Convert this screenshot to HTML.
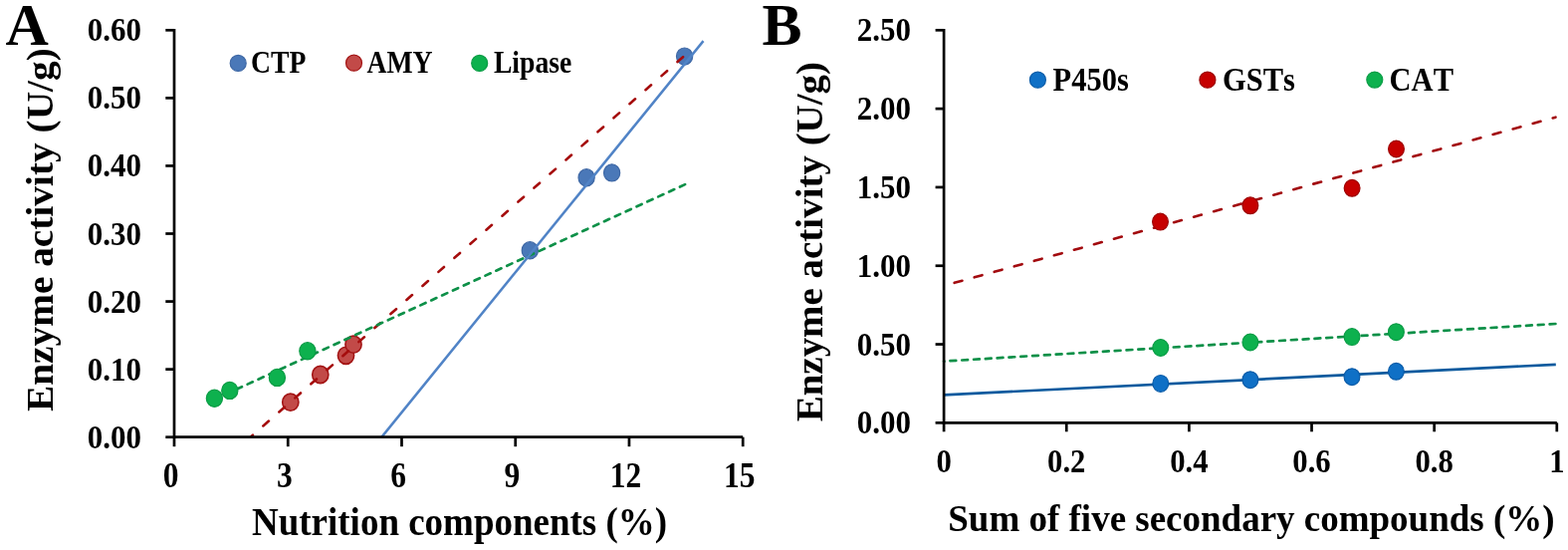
<!DOCTYPE html>
<html><head><meta charset="utf-8"><title>Enzyme activity charts</title>
<style>
html,body{margin:0;padding:0;background:#fff;}
body{width:1575px;height:552px;overflow:hidden;}
svg{display:block;font-kerning:none;}
text{font-kerning:none;font-variant-ligatures:common-ligatures;}
</style></head>
<body>
<svg width="1575" height="552" viewBox="0 0 1575 552">
<rect width="1575" height="552" fill="#fff"/>
<g font-family='"Liberation Serif", "Times New Roman", serif' font-weight="bold" fill="#000">
<text transform="translate(141.90,449.70) scale(1.000,1.100)" font-size="31" text-anchor="end">0.00</text>
<text transform="translate(141.90,381.63) scale(1.000,1.100)" font-size="31" text-anchor="end">0.10</text>
<text transform="translate(141.90,313.57) scale(1.000,1.100)" font-size="31" text-anchor="end">0.20</text>
<text transform="translate(141.90,245.50) scale(1.000,1.100)" font-size="31" text-anchor="end">0.30</text>
<text transform="translate(141.90,177.43) scale(1.000,1.100)" font-size="31" text-anchor="end">0.40</text>
<text transform="translate(141.90,109.37) scale(1.000,1.100)" font-size="31" text-anchor="end">0.50</text>
<text transform="translate(141.90,41.30) scale(1.000,1.100)" font-size="31" text-anchor="end">0.60</text>
<text transform="translate(171.60,488.60) scale(1.000,1.110)" font-size="31.5" text-anchor="middle">0</text>
<text transform="translate(285.84,488.60) scale(1.000,1.110)" font-size="31.5" text-anchor="middle">3</text>
<text transform="translate(400.08,488.60) scale(1.000,1.110)" font-size="31.5" text-anchor="middle">6</text>
<text transform="translate(514.32,488.60) scale(1.000,1.110)" font-size="31.5" text-anchor="middle">9</text>
<text transform="translate(628.56,488.60) scale(1.000,1.110)" font-size="31.5" text-anchor="middle">12</text>
<text transform="translate(742.80,488.60) scale(1.000,1.110)" font-size="31.5" text-anchor="middle">15</text>
<text transform="translate(253.00,537.40) scale(1.000,1.090)" font-size="37">Nutrition components (%)</text>
<text transform="translate(53.30,413.10) rotate(-90) scale(1.030,1.000)" font-size="38.2">Enzyme activity (U/g)</text>
<text transform="translate(5.40,44.60)" font-size="60">A</text>
<text transform="translate(252.10,72.60) scale(1.000,1.110)" font-size="27.7">CTP</text>
<text transform="translate(368.40,72.60) scale(1.000,1.110)" font-size="27.7">AMY</text>
<text transform="translate(495.90,72.80) scale(1.000,1.110)" font-size="27.7">Lipase</text>
</g>
<ellipse cx="239.20" cy="63.40" rx="8.0" ry="8.0" fill="#4a78b8" stroke="#3f68a5" stroke-width="1.2"/>
<ellipse cx="355.50" cy="63.20" rx="8.0" ry="8.0" fill="#c24a48" stroke="#a31414" stroke-width="1.2"/>
<ellipse cx="481.70" cy="63.40" rx="8.0" ry="8.0" fill="#0db14e" stroke="#0a9c45" stroke-width="1.2"/>
<ellipse cx="532.30" cy="251.30" rx="8.1" ry="8.6" fill="#4a78b8" stroke="#3f68a5" stroke-width="1.2"/>
<ellipse cx="589.10" cy="178.30" rx="8.1" ry="8.6" fill="#4a78b8" stroke="#3f68a5" stroke-width="1.2"/>
<ellipse cx="614.60" cy="173.40" rx="8.1" ry="8.6" fill="#4a78b8" stroke="#3f68a5" stroke-width="1.2"/>
<ellipse cx="687.60" cy="56.60" rx="8.1" ry="8.6" fill="#4a78b8" stroke="#3f68a5" stroke-width="1.2"/>
<ellipse cx="291.80" cy="403.70" rx="8.1" ry="8.6" fill="#c24a48" stroke="#a31414" stroke-width="1.6"/>
<ellipse cx="321.80" cy="376.00" rx="8.1" ry="8.6" fill="#c24a48" stroke="#a31414" stroke-width="1.6"/>
<ellipse cx="347.50" cy="356.80" rx="8.1" ry="8.6" fill="#c24a48" stroke="#a31414" stroke-width="1.6"/>
<ellipse cx="355.00" cy="345.70" rx="8.1" ry="8.6" fill="#c24a48" stroke="#a31414" stroke-width="1.6"/>
<path d="M252.5,437.9 L686.7,56.6" stroke="#a50d0d" stroke-width="2.6" stroke-dasharray="7.4 13.9" stroke-dashoffset="5.5" stroke-linecap="round" fill="none"/>
<path d="M215.4,400.8 L688.6,184.9" stroke="#0d9048" stroke-width="2.7" stroke-dasharray="5.65 6.284" stroke-dashoffset="11.184" stroke-linecap="round" fill="none"/>
<ellipse cx="215.40" cy="399.80" rx="8.1" ry="8.6" fill="#0db14e" stroke="#0a9c45" stroke-width="1.2"/>
<ellipse cx="230.80" cy="391.90" rx="8.1" ry="8.6" fill="#0db14e" stroke="#0a9c45" stroke-width="1.2"/>
<ellipse cx="278.40" cy="378.90" rx="8.1" ry="8.6" fill="#0db14e" stroke="#0a9c45" stroke-width="1.2"/>
<ellipse cx="308.90" cy="352.30" rx="8.1" ry="8.6" fill="#0db14e" stroke="#0a9c45" stroke-width="1.2"/>
<path d="M383.4,438.6 L706.5,41.1" stroke="#5083c6" stroke-width="2.5" fill="none"/>
<path d="M957.4,284.2 L1562.5,117.7" stroke="#a20a0e" stroke-width="2.6" stroke-dasharray="8.1 12.68" stroke-dashoffset="19.48" stroke-linecap="round" fill="none"/>
<path d="M948.1,362.6 L1562.8,325.0" stroke="#0d9048" stroke-width="2.7" stroke-dasharray="5.8 6.03" stroke-dashoffset="5.47" stroke-linecap="round" fill="none"/>
<path d="M948.1,396.4 L1562.8,365.8" stroke="#0b5a9e" stroke-width="2.7" fill="none"/>
<ellipse cx="1165.50" cy="222.60" rx="7.9" ry="8.4" fill="#c60000" stroke="#9c0000" stroke-width="1.2"/>
<ellipse cx="1255.90" cy="206.30" rx="7.9" ry="8.4" fill="#c60000" stroke="#9c0000" stroke-width="1.2"/>
<ellipse cx="1358.10" cy="188.80" rx="7.9" ry="8.4" fill="#c60000" stroke="#9c0000" stroke-width="1.2"/>
<ellipse cx="1402.50" cy="149.50" rx="7.9" ry="8.4" fill="#c60000" stroke="#9c0000" stroke-width="1.2"/>
<ellipse cx="1165.80" cy="349.00" rx="7.9" ry="8.4" fill="#0db14e" stroke="#0a9c45" stroke-width="1.2"/>
<ellipse cx="1255.90" cy="343.50" rx="7.9" ry="8.4" fill="#0db14e" stroke="#0a9c45" stroke-width="1.2"/>
<ellipse cx="1358.00" cy="338.10" rx="7.9" ry="8.4" fill="#0db14e" stroke="#0a9c45" stroke-width="1.2"/>
<ellipse cx="1402.40" cy="333.20" rx="7.9" ry="8.4" fill="#0db14e" stroke="#0a9c45" stroke-width="1.2"/>
<ellipse cx="1165.80" cy="384.90" rx="7.9" ry="8.4" fill="#0f70c6" stroke="#0b5ca8" stroke-width="1.2"/>
<ellipse cx="1255.90" cy="381.20" rx="7.9" ry="8.4" fill="#0f70c6" stroke="#0b5ca8" stroke-width="1.2"/>
<ellipse cx="1358.00" cy="378.20" rx="7.9" ry="8.4" fill="#0f70c6" stroke="#0b5ca8" stroke-width="1.2"/>
<ellipse cx="1402.40" cy="372.80" rx="7.9" ry="8.4" fill="#0f70c6" stroke="#0b5ca8" stroke-width="1.2"/>
<ellipse cx="1042.40" cy="80.20" rx="8.0" ry="8.0" fill="#0f70c6" stroke="#0b5ca8" stroke-width="1.2"/>
<ellipse cx="1212.90" cy="80.20" rx="8.0" ry="8.0" fill="#c60000" stroke="#9c0000" stroke-width="1.2"/>
<ellipse cx="1380.80" cy="80.10" rx="8.0" ry="8.0" fill="#0db14e" stroke="#0a9c45" stroke-width="1.2"/>
<g font-family='"Liberation Serif", "Times New Roman", serif' font-weight="bold" fill="#000">
<text transform="translate(915.00,435.35) scale(1.000,1.100)" font-size="31" text-anchor="end">0.00</text>
<text transform="translate(915.00,356.54) scale(1.000,1.100)" font-size="31" text-anchor="end">0.50</text>
<text transform="translate(915.00,277.73) scale(1.000,1.100)" font-size="31" text-anchor="end">1.00</text>
<text transform="translate(915.00,198.92) scale(1.000,1.100)" font-size="31" text-anchor="end">1.50</text>
<text transform="translate(915.00,120.11) scale(1.000,1.100)" font-size="31" text-anchor="end">2.00</text>
<text transform="translate(915.00,41.30) scale(1.000,1.100)" font-size="31" text-anchor="end">2.50</text>
<text transform="translate(948.10,474.00) scale(1.000,1.100)" font-size="30.7" text-anchor="middle">0</text>
<text transform="translate(1071.24,474.00) scale(1.000,1.100)" font-size="30.7" text-anchor="middle">0.2</text>
<text transform="translate(1194.38,474.00) scale(1.000,1.100)" font-size="30.7" text-anchor="middle">0.4</text>
<text transform="translate(1317.52,474.00) scale(1.000,1.100)" font-size="30.7" text-anchor="middle">0.6</text>
<text transform="translate(1440.66,474.00) scale(1.000,1.100)" font-size="30.7" text-anchor="middle">0.8</text>
<text transform="translate(1563.80,474.00) scale(1.000,1.100)" font-size="30.7" text-anchor="middle">1</text>
<text transform="translate(952.30,533.30) scale(1.000,1.040)" font-size="37">Sum of five secondary compounds (%)</text>
<text transform="translate(826.10,423.30) rotate(-90) scale(1.045,1.000)" font-size="37.3">Enzyme activity (U/g)</text>
<text transform="translate(765.50,44.60)" font-size="60">B</text>
<text transform="translate(1057.60,90.80) scale(1.000,1.120)" font-size="30.5">P450s</text>
<text transform="translate(1228.00,90.80) scale(1.000,1.120)" font-size="30.5">GSTs</text>
<text transform="translate(1395.60,90.80) scale(1.000,1.120)" font-size="30.5">CAT</text>
</g>
<g stroke="#000" stroke-width="2.7" fill="none" stroke-linecap="butt">
<path d="M175.0,28.95 V438.7 H746.2"/>
<path d="M166.3,438.70 H175.0"/>
<path d="M166.3,370.63 H175.0"/>
<path d="M166.3,302.57 H175.0"/>
<path d="M166.3,234.50 H175.0"/>
<path d="M166.3,166.43 H175.0"/>
<path d="M166.3,98.37 H175.0"/>
<path d="M166.3,30.30 H175.0"/>
<path d="M175.00,438.7 V448.2"/>
<path d="M289.24,438.7 V448.2"/>
<path d="M403.48,438.7 V448.2"/>
<path d="M517.72,438.7 V448.2"/>
<path d="M631.96,438.7 V448.2"/>
<path d="M746.20,438.7 V448.2"/>
</g>
<g stroke="#000" stroke-width="2.7" fill="none">
<path d="M948.1,28.95 V424.35 H1563.8"/>
<path d="M939.6,424.35 H948.1"/>
<path d="M939.6,345.54 H948.1"/>
<path d="M939.6,266.73 H948.1"/>
<path d="M939.6,187.92 H948.1"/>
<path d="M939.6,109.11 H948.1"/>
<path d="M939.6,30.30 H948.1"/>
<path d="M948.10,424.35 V433.3"/>
<path d="M1071.24,424.35 V433.3"/>
<path d="M1194.38,424.35 V433.3"/>
<path d="M1317.52,424.35 V433.3"/>
<path d="M1440.66,424.35 V433.3"/>
<path d="M1563.80,424.35 V433.3"/>
</g>
</svg>
</body></html>
